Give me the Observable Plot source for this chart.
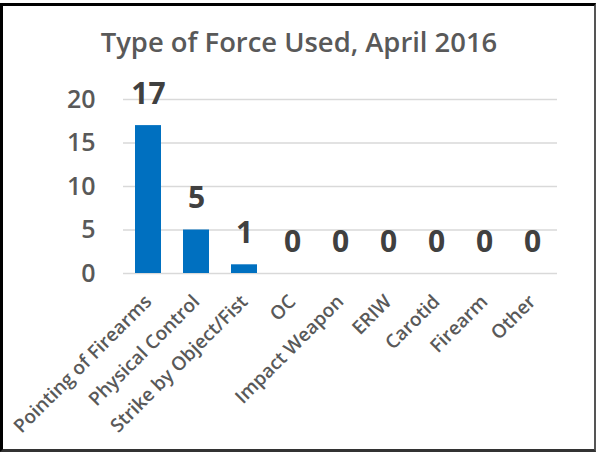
<!DOCTYPE html>
<html>
<head>
<meta charset="utf-8">
<script src="https://cdn.jsdelivr.net/npm/d3@7"></script>
<script src="https://cdn.jsdelivr.net/npm/@observablehq/plot@0.6"></script>
<style>
  html, body { margin: 0; padding: 0; background: #fff; }
  #wrap { position: relative; width: 596px; height: 452px; overflow: hidden; font-family: "Open Sans", Lato, sans-serif; }
  #frame { position: absolute; left: 0; top: 3px; width: 596px; height: 449px; box-sizing: border-box; border-left: 3px solid #000; border-top: 3px solid #000; border-right: 2px solid #555; border-bottom: 3px solid #333; pointer-events: none; }
  #title { position: absolute; left: 0; width: 598px; top: 25px; text-align: center; font-size: 27.4px; font-weight: 600; color: #595959; line-height: 34px; white-space: nowrap; }
  #chart { position: absolute; left: 0; top: 70px; }
</style>
</head>
<body>
<div id="wrap">
  <div id="title">Type of Force Used, April 2016</div>
  <div id="chart"></div>
  <div id="frame"></div>
</div>
<script>
const categories = ["Pointing of Firearms", "Physical Control", "Strike by Object/Fist", "OC", "Impact Weapon", "ERIW", "Carotid", "Firearm", "Other"];
const counts = [17, 5, 1, 0, 0, 0, 0, 0, 0];
const yTicks = [0, 5, 10, 15, 20];

const data = categories.map((c, i) => ({category: c, value: counts[i]}));

const plot = Plot.plot({
  width: 596,
  height: 382,
  marginTop: 29,
  marginBottom: 179,
  marginLeft: 123,
  marginRight: 39,
  style: {fontFamily: "'Open Sans', Lato, sans-serif", background: "transparent", overflow: "visible"},
  x: {domain: categories, paddingInner: 0.46, paddingOuter: 0.23, label: null},
  y: {domain: [0, 20], label: null},
  marks: [
    Plot.gridY(yTicks, {stroke: "#d9d9d9", strokeOpacity: 1, strokeWidth: 1.3}),
    Plot.barY(data, {x: "category", y: "value", fill: "#0070C0"}),
    Plot.text(data, {x: "category", y: "value", text: d => String(d.value), dy: -22, fontSize: 30, fontWeight: "bold", fill: "#404040", lineAnchor: "bottom"}),
    Plot.axisY(yTicks, {tickSize: 0, tickPadding: 28, fontSize: 25, fontWeight: 600, fill: "#595959", textAnchor: "end"}),
    Plot.axisX({tickSize: 0, tickRotate: -45, fontSize: 19, fontWeight: 600, fill: "#595959", tickPadding: 25})
  ]
});
document.getElementById("chart").appendChild(plot);
</script>
</body>
</html>
